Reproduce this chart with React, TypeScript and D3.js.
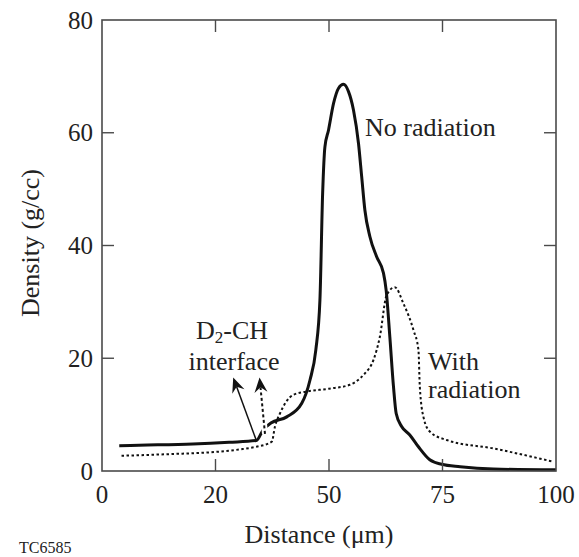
import React from "react";
import * as d3 from "d3";

const W = 579;
const H = 557;

// Solid curve: "No radiation"
const noRadX = [3.8, 10, 20, 28, 34, 35.5, 37.2, 40.7, 44, 45.8, 47.1, 48, 48.6, 49.1, 49.9, 51, 52.1, 53.2, 54.3, 55.4, 56.5, 57.2, 57.9, 59.0, 60.5, 62, 62.6, 63.4, 64.2, 64.8, 66, 67.8, 69.7, 72.2, 74.8, 78.9, 86.2, 100];
const noRadY = [4.5, 4.6, 4.8, 5.1, 5.4, 7.3, 8.5, 9.6, 12, 16.1, 21.5, 30.3, 49.3, 57.5, 60.5, 65.2, 67.9, 68.6, 67.3, 64, 58.1, 52.2, 46.3, 41.6, 38, 35.1, 32, 23.8, 15, 10.2, 7.9, 6.4, 4.3, 2.0, 1.2, 0.76, 0.35, 0.2];

// Dotted curve: "With radiation"
const withRadX = [4.3, 15, 25.3, 31, 34, 37.4, 38.1, 39.2, 40.5, 42.1, 45.1, 50, 54.6, 56.8, 57.9, 59.8, 61.2, 62.7, 64.5, 66.4, 68.6, 69.7, 70.0, 70.8, 72.2, 75.9, 86.2, 99.4];
const withRadY = [2.7, 3.0, 3.4, 3.9, 4.3, 5.2, 7.9, 10.2, 12.2, 13.5, 14.1, 14.6, 15.3, 16.4, 17.3, 19.7, 23.8, 31.2, 32.6, 29.7, 25, 21.5, 15, 9.6, 7.0, 5.5, 4.0, 1.65];

const xTickValues = [0, 25, 50, 75, 100];
const xTickLabels = ["0", "20", "50", "75", "100"];
const yTickValues = [0, 20, 40, 60, 80];
const yTickLabels = ["0", "20", "40", "60", "80"];

// Annotation arrows (data units): [x0, y0, x1, y1]
const solidArrow = [34, 5.4, 28.9, 16.6];
const dashedArrow = [35.9, 6.6, 34.7, 16.6];

const FONT = "'Liberation Serif', Tinos, 'Times New Roman', Times, 'Nimbus Roman', 'DejaVu Serif', serif";

export default function App() {
  const left = 102, right = 556, top = 20, bottom = 471;
  const x = d3.scaleLinear().domain([0, 100]).range([left, right]);
  const y = d3.scaleLinear().domain([0, 80]).range([bottom, top]);

  const line = d3
    .line<[number, number]>()
    .x((d) => x(d[0]))
    .y((d) => y(d[1]))
    .curve(d3.curveMonotoneX);

  const noRad: [number, number][] = noRadX.map((v, i) => [v, noRadY[i]]);
  const withRad: [number, number][] = withRadX.map((v, i) => [v, withRadY[i]]);

  const frameColor = "#4a4a4a";
  const tickLen = 12;
  const ts = (size: number): React.CSSProperties => ({ fontFamily: FONT, fontSize: size });

  const arrow = (a: number[], dashed: boolean) => {
    const x0 = x(a[0]), y0 = y(a[1]), x1 = x(a[2]), y1 = y(a[3]);
    const ang = Math.atan2(y1 - y0, x1 - x0);
    const len = 15, hw = 6.5, notch = 10;
    const cos = Math.cos(ang), sin = Math.sin(ang);
    const p = (dx: number, dy: number) => [x1 + dx * cos - dy * sin, y1 + dx * sin + dy * cos];
    const pA = p(-len, -hw), pB = p(-notch, 0), pC = p(-len, hw);
    const head = `M${x1},${y1}L${pA[0]},${pA[1]}L${pB[0]},${pB[1]}L${pC[0]},${pC[1]}Z`;
    return (
      <g>
        {dashed && <line x1={x0} y1={y0} x2={pB[0]} y2={pB[1]} stroke="#fff" strokeWidth={6} />}
        <line
          x1={x0}
          y1={y0}
          x2={pB[0]}
          y2={pB[1]}
          stroke="#111"
          strokeWidth={dashed ? 2 : 1.5}
          strokeDasharray={dashed ? "3 2.5" : undefined}
        />
        <path d={head} fill="#111" />
      </g>
    );
  };

  return (
    <svg width={W} height={H} style={{ position: "absolute", left: 0, top: 0, background: "#fff" }}>
      <rect x={0} y={0} width={W} height={H} fill="#fff" />
      <path d={line(withRad) || ""} fill="none" stroke="#111" strokeWidth={2} strokeDasharray="2.5 2.5" />
      <path d={line(noRad) || ""} fill="none" stroke="#111" strokeWidth={3} strokeLinejoin="round" />

      {arrow(solidArrow, false)}
      {arrow(dashedArrow, true)}

      <rect x={left} y={top} width={right - left} height={bottom - top} fill="none" stroke={frameColor} strokeWidth={1.6} />
      {xTickValues.slice(1, -1).map((v) => (
        <g key={"xt" + v}>
          <line x1={x(v)} x2={x(v)} y1={bottom} y2={bottom - tickLen} stroke={frameColor} strokeWidth={1.4} />
          <line x1={x(v)} x2={x(v)} y1={top} y2={top + tickLen} stroke={frameColor} strokeWidth={1.4} />
        </g>
      ))}
      {yTickValues.slice(1, -1).map((v) => (
        <g key={"yt" + v}>
          <line x1={left} x2={left + tickLen} y1={y(v)} y2={y(v)} stroke={frameColor} strokeWidth={1.4} />
          <line x1={right} x2={right - tickLen} y1={y(v)} y2={y(v)} stroke={frameColor} strokeWidth={1.4} />
        </g>
      ))}

      {xTickValues.map((v, i) => (
        <text key={"xl" + v} x={x(v)} y={503} textAnchor="middle" style={ts(25)} fill="#222">
          {xTickLabels[i]}
        </text>
      ))}
      {yTickValues.map((v, i) => (
        <text key={"yl" + v} x={93} y={y(v) + 8.5} textAnchor="end" style={ts(25)} fill="#222">
          {yTickLabels[i]}
        </text>
      ))}

      <text x={319} y={543} textAnchor="middle" style={ts(26)} fill="#222">
        Distance (μm)
      </text>
      <text transform="translate(39,243) rotate(-90)" textAnchor="middle" style={ts(26)} fill="#222">
        Density (g/cc)
      </text>
      <text x={19} y={553} style={ts(16)} fill="#222">
        TC6585
      </text>

      <text x={365} y={136} style={ts(26)} fill="#222">
        No radiation
      </text>
      <text x={428} y={370} style={ts(26)} fill="#222">
        With
      </text>
      <text x={428} y={398} style={ts(26)} fill="#222">
        radiation
      </text>
      <text x={232} y={339} textAnchor="middle" style={ts(26)} fill="#222">
        D
        <tspan style={{ fontSize: 17 }} dy={4}>2</tspan>
        <tspan dy={-4}>-CH</tspan>
      </text>
      <text x={234} y={370} textAnchor="middle" style={ts(26)} fill="#222">
        interface
      </text>
    </svg>
  );
}
